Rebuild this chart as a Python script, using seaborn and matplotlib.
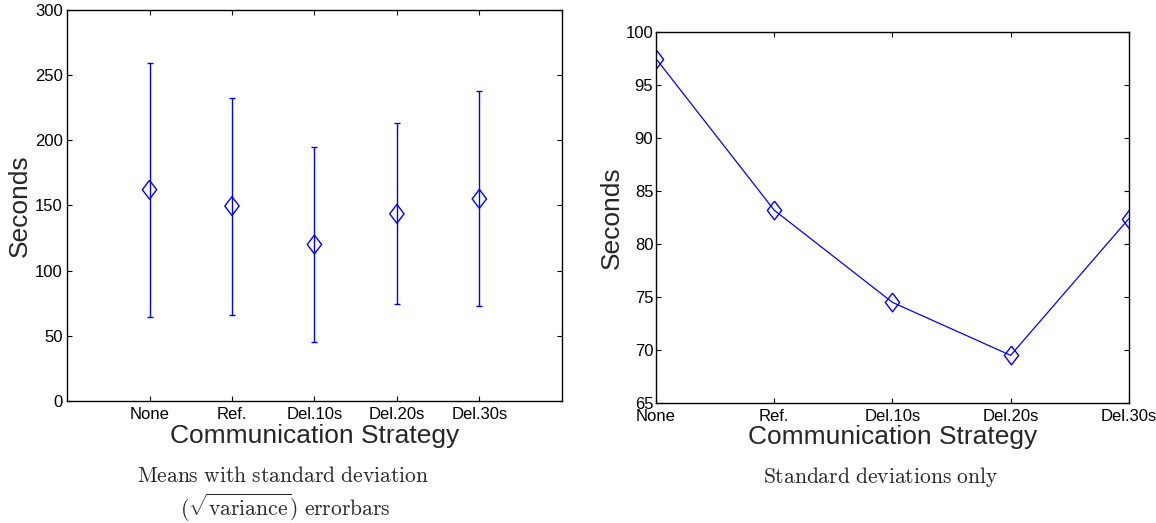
import numpy as np
import pandas as pd
import seaborn as sns
import matplotlib.pyplot as plt

# %% data
strategies = ['None', 'Ref.', 'Del.10s', 'Del.20s', 'Del.30s']
means = [162, 149.5, 120, 143.5, 155]
stds = [97.5, 83.2, 74.5, 69.5, 82.4]

df = pd.DataFrame({'strategy': strategies, 'mean': means, 'std': stds})
df['pos'] = np.arange(1, len(strategies) + 1)

# %% style
sns.set_style('white')
plt.rcParams['font.family'] = ['Liberation Sans', 'DejaVu Sans']
plt.rcParams['mathtext.fontset'] = 'cm'

blue = '#0000ff'
# matlab-style diamond, a bit taller than wide
diamond = [(0, 1), (0.76, 0), (0, -1), (-0.76, 0), (0, 1)]

fig = plt.figure(figsize=(11.56, 5.23), dpi=100)
ax1 = fig.add_axes([0.058, 0.2333, 0.428, 0.748])
ax2 = fig.add_axes([0.5675, 0.2294, 0.409, 0.709])

def matlab_axes(ax):
    for s in ax.spines.values():
        s.set_color('black')
        s.set_linewidth(1.0)
    ax.tick_params(direction='in', length=3.5, width=0.8, top=True, right=True,
                   bottom=True, left=True, labelsize=12, colors='black', pad=3)
    ax.tick_params(axis='x', pad=4)

# %% left: means with errorbars
ax1.errorbar(df['pos'], df['mean'], yerr=df['std'], fmt='none',
             ecolor=blue, elinewidth=1.0, capsize=2.4, capthick=1.0)
sns.scatterplot(data=df, x='pos', y='mean', ax=ax1, marker=diamond, s=185,
                facecolor='none', edgecolor=blue, linewidth=1.0, zorder=3)
ax1.set_xlim(0, 6)
ax1.set_ylim(0, 300)
ax1.set_xticks(df['pos'])
ax1.set_xticklabels(strategies)
ax1.set_yticks(range(0, 301, 50))
matlab_axes(ax1)
ax1.set_xlabel('Communication Strategy', fontsize=19, labelpad=2)
ax1.set_ylabel('Seconds', fontsize=19, labelpad=2)

# %% right: standard deviations only
sns.lineplot(data=df, x='pos', y='std', ax=ax2, color=blue, linewidth=0.9,
             marker=diamond, markersize=13.5, markerfacecolor='none',
             markeredgecolor=blue, markeredgewidth=1.0)
ax2.set_xlim(1, 5)
ax2.set_ylim(65, 100)
ax2.set_xticks(df['pos'])
ax2.set_xticklabels(strategies)
ax2.set_yticks(range(65, 101, 5))
matlab_axes(ax2)
ax2.tick_params(axis='y', pad=2)
ax2.set_xlabel('Communication Strategy', fontsize=19, labelpad=1)
ax2.set_ylabel('Seconds', fontsize=19, labelpad=1)

# %% captions
fig.text(283 / 1156, 1 - 477 / 523, r'$\mathrm{Means\ with\ standard\ deviation}$',
         ha='center', va='center', fontsize=15.5)
fig.text(285 / 1156, 1 - 508 / 523, r'$(\sqrt{\mathrm{variance}})\ \mathrm{errorbars}$',
         ha='center', va='center', fontsize=15.5)
fig.text(881 / 1156, 1 - 477 / 523, r'$\mathrm{Standard\ deviations\ only}$',
         ha='center', va='center', fontsize=15.5)

fig.savefig('out.png', dpi=100)
